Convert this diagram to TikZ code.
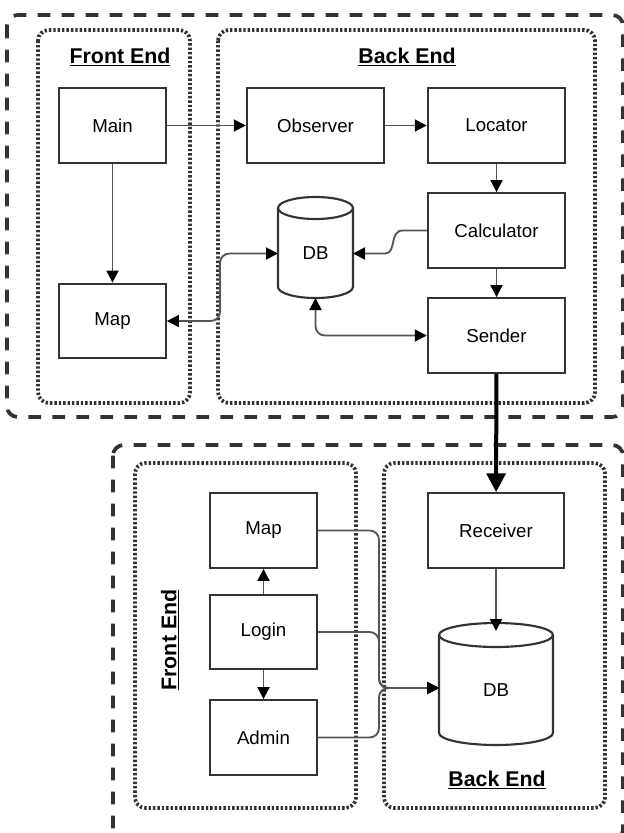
\documentclass[tikz,border=0pt]{standalone}
\usepackage{fontspec}
\setmainfont{Liberation Sans}
\usetikzlibrary{arrows.meta,calc}
\definecolor{boxcol}{HTML}{333333}
\definecolor{linkcol}{HTML}{555555}
\tikzset{
  >={Triangle[length=9pt,width=9pt,color=black]},
  box/.style={draw=boxcol, line width=1.6pt, minimum width=80pt, minimum height=56pt, font=\fontsize{14}{16}\selectfont},
  widebox/.style={box, minimum width=103pt},
  dbnode/.style={outer sep=0pt, inner sep=0pt, font=\fontsize{14}{16}\selectfont},
  outer/.style={draw=boxcol, line width=2.8pt, dash pattern=on 9.5pt off 8.5pt, rounded corners=8pt},
  group/.style={draw=boxcol, line width=2.8pt, dash pattern=on 1.8pt off 1.5pt, rounded corners=8pt},
  link/.style={draw=linkcol, line width=1.4pt, rounded corners=7pt, ->},
  title/.style={font=\fontsize{16}{18}\selectfont\bfseries},
}
% cylinder outline round a node: node, x radius, y radius
\newcommand\drawdb[3]{%
  \draw[boxcol, line width=1.6pt] ([yshift=-#3]#1.north west) -- ([yshift=#3]#1.south west)
    arc[start angle=180, end angle=360, x radius=#2, y radius=#3]
    -- ([yshift=-#3]#1.north east);
  \draw[boxcol, line width=1.6pt] ([yshift=-#3]#1.north) ellipse[x radius=#2, y radius=#3];
}
\begin{document}
\begin{tikzpicture}[x=0.75pt,y=-0.75pt]
  \useasboundingbox (0,0) rectangle (624,833);
  % upper system
  \draw[outer] (7,15) rectangle (623,417);
  \draw[group] (38,30) rectangle (190,403);
  \draw[group] (218,30) rectangle (595,403);
  \node[title] (fe1) at (120,57) {\underline{Front End}};
  \node[title] (be1) at (407,57) {\underline{Back End}};
  \node[box] (main) at (112.5,125.5) {Main};
  \node[box] (map) at (112.5,321) {Map};
  \node[widebox] (obs) at (315.5,125.5) {Observer};
  \node[widebox] (loc) at (496.5,125.5) {Locator};
  \node[widebox] (calc) at (496.5,230.5) {Calculator};
  \node[widebox] (send) at (496.5,335.5) {Sender};
  \node[dbnode, minimum width=56.25pt, minimum height=75.75pt,
        label={[name=dbtxt, yshift=-4.5pt, dbnode]center:DB}] (db) at (315.5,247.5) {};
  \drawdb{db}{28.1pt}{8.25pt}
  \draw[link] (main) -- (obs);
  \draw[link] (obs) -- (loc);
  \draw[link] (loc) -- (calc);
  \draw[link] (calc) -- (send);
  \draw[link] (main) -- (map);
  \draw[link, sharp corners] (calc.west) -- ++(-24,0) .. controls +(-14,0) and +(12,0) .. ($(db.east)+(32,6)$) -- ($(db.east)+(0,6)$);
  \draw[link, <->] (map.east) -| ($(db.west)+(-58,6)$) -- ($(db.west)+(0,6)$);
  \draw[link, <->] (db.south) |- (send.west);
  % lower system
  \draw[outer] (113,445) rectangle (623,840);
  \draw[group] (135,463) rectangle (356,808);
  \draw[group] (384,463) rectangle (605,808);
  \node[title, rotate=90] (fe2) at (170,640) {\underline{Front End}};
  \node[title] (be2) at (497,780) {\underline{Back End}};
  \node[box] (map2) at (263.5,530.5) {Map};
  \node[box] (login) at (263.5,632) {Login};
  \node[box] (admin) at (263.5,737.5) {Admin};
  \node[widebox, minimum width=102pt] (recv) at (496,530.5) {Receiver};
  \node[dbnode, minimum width=85.5pt, minimum height=91.5pt,
        label={[name=db2txt, yshift=-4.5pt, dbnode]center:DB}] (db2) at (496,684) {};
  \drawdb{db2}{42.75pt}{9pt}
  \draw[link] (login) -- (map2);
  \draw[link] (login) -- (admin);
  \draw[link] (recv) -- ([yshift=-6pt]db2.north);
  \draw[link] (map2.east) -| ($(db2.west)+(-60,4)$) -- ($(db2.west)+(0,4)$);
  \draw[link] (login.east) -| ($(db2.west)+(-60,4)$) -- ($(db2.west)+(0,4)$);
  \draw[link] (admin.east) -| ($(db2.west)+(-60,4)$) -- ($(db2.west)+(0,4)$);
  % link between the two systems
  \draw[black, line width=3pt, -{Triangle[length=14pt,width=14pt]}] (send) -- (recv);
\end{tikzpicture}
\end{document}
